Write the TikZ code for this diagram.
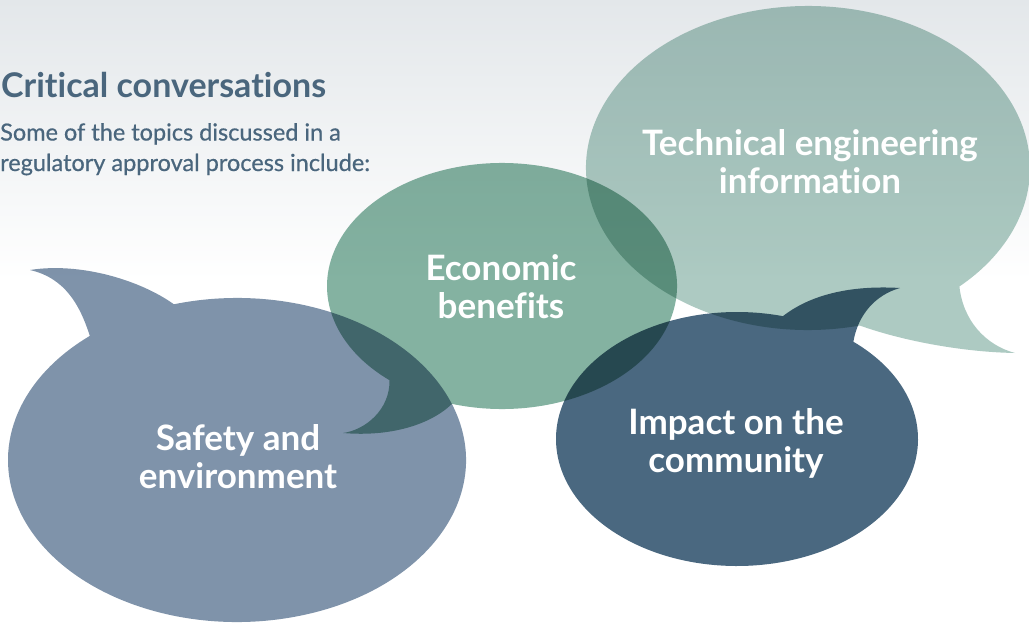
\documentclass[tikz,border=0pt]{standalone}
\usepackage{fontspec}
\setmainfont{Lato}[Ligatures=NoCommon]
\usetikzlibrary{calc}
\definecolor{safetycol}{HTML}{7F93AA}
\definecolor{econcol}{HTML}{84B2A1}
\definecolor{techcol}{HTML}{ADCAC2}
\definecolor{impactcol}{HTML}{4A6880}
\definecolor{titlecol}{HTML}{4A667D}
\definecolor{bgtop}{HTML}{E3E7EA}

\begin{document}
\begin{tikzpicture}[x=1pt,y=-1pt,
  bubble/.style={blend mode=multiply},
  bubbletext/.style={text=white, font=\fontsize{35}{38}\selectfont\bfseries,
    align=center, inner sep=0pt},
  headline/.style={text=titlecol, font=\fontsize{34}{40}\selectfont\bfseries,
    anchor=base west, inner sep=0pt},
  intro/.style={text=titlecol,
    font=\fontsize{23.5}{30.5}\selectfont\addfontfeature{FakeBold=0.6},
    align=left, anchor=north west, inner sep=0pt},
]
\useasboundingbox (0,0) rectangle (1029,624);
\fill[white] (0,0) rectangle (1029,624);
\shade[top color=bgtop, bottom color=white] (0,0) rectangle (1029,280);

% ellipse centres
\coordinate (sc) at (237,460);
\coordinate (ec) at (502,286);
\coordinate (tc) at (808,168);
\coordinate (ic) at (737,439);

% speech bubbles, multiplied so overlaps darken
\fill[safetycol, bubble] ($(sc)+(230:229 and 162)$)
  .. controls (80,305) and (65,278) .. (30,270)
  .. controls (80,262) and (140,280) .. ($(sc)+(254:229 and 162)$)
  arc[start angle=254, end angle=590, x radius=229, y radius=162] -- cycle;

\fill[econcol, bubble] ($(ec)+(130:175 and 123)$)
  .. controls (390,410) and (365,430) .. (343,433)
  .. controls (390,437) and (430,425) .. ($(ec)+(106.6:175 and 123)$)
  arc[start angle=106.6, end angle=-230, x radius=175, y radius=123] -- cycle;

\fill[techcol, bubble] ($(tc)+(47:222 and 162)$)
  .. controls (963,320) and (985,345) .. (1015,353)
  .. controls (960,352) and (900,340) .. ($(tc)+(76.5:222 and 162)$)
  arc[start angle=76.5, end angle=407, x radius=222, y radius=162] -- cycle;

\fill[impactcol, bubble] ($(ic)+(-75.3:181 and 127)$)
  .. controls (810,295) and (850,285) .. (900,288)
  .. controls (875,295) and (858,315) .. ($(ic)+(-50:181 and 127)$)
  arc[start angle=-50, end angle=284.7, x radius=181, y radius=127] -- cycle;

% bubble labels
\node[bubbletext] (safety) at (238,457) {Safety and\\environment};
\node[bubbletext] (econ) at (501,287) {Economic\\benefits};
\node[bubbletext] (tech) at (810,162) {Technical engineering\\information};
\node[bubbletext] (impact) at (736,443) {Impact on the\\community};

% heading and introduction
\node[headline] (title) at (1,97) {Critical conversations};
\node[intro] (introtext) at (0,123) {Some of the topics discussed in a\\regulatory approval process include:};
\end{tikzpicture}
\end{document}
